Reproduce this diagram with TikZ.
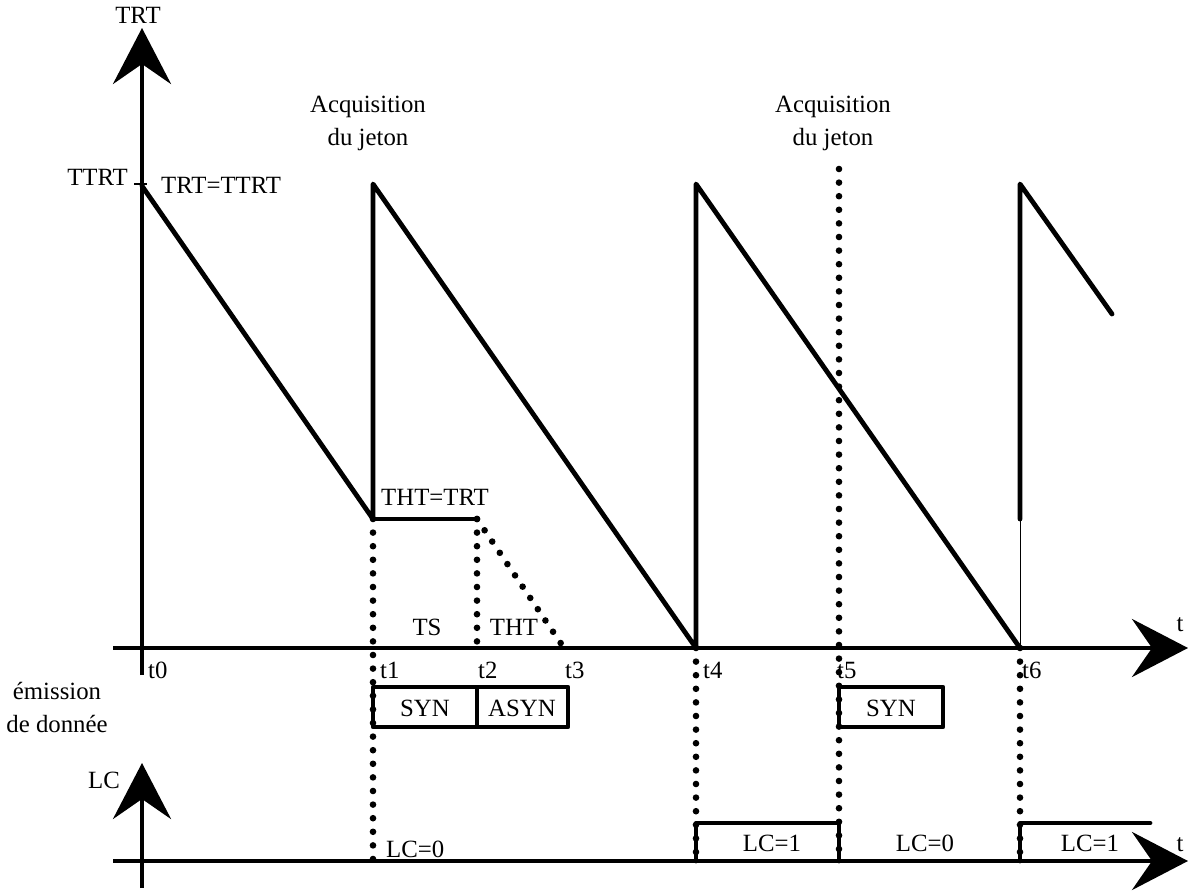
\documentclass[tikz,border=0pt]{standalone}
\usepackage{fontspec}
\setmainfont{Liberation Serif}
\usetikzlibrary{arrows.meta}
\begin{document}
\begin{tikzpicture}[x=1pt,y=-1pt,
  thick line/.style={line width=4.8pt,line join=round,line cap=round},
  axis/.style={line width=4.6pt,-{Stealth[length=56pt,width=58pt,inset=20pt]}},
  dotline/.style={line width=6.6pt,line cap=round,dash pattern=on 0pt off 13.6pt},
  lbl/.style={inner sep=0pt,font=\fontsize{24.8}{33}\selectfont},
  box/.style={line width=4.6pt,line join=round}]
\useasboundingbox (0,0) rectangle (1192,893);
% axes coordinates
\coordinate (yb) at (142,675);
\coordinate (yt) at (142,28);
\coordinate (xl) at (113,648);
\coordinate (xr) at (1188,648);
\coordinate (lyb) at (142,888);
\coordinate (lyt) at (142,763);
\coordinate (lxl) at (113,861);
\coordinate (lxr) at (1188,861);
\draw[axis] (yb) -- (yt);
\draw[axis] (xl) -- (xr);
\draw[axis] (lyb) -- (lyt);
\draw[axis] (lxl) -- (lxr);
% sawtooth
\coordinate (s0) at (142,186);
\coordinate (a1) at (373,519);
\coordinate (h1) at (373,184);
\coordinate (b4) at (696,648);
\coordinate (h4) at (696,184);
\coordinate (b6) at (1020,648);
\coordinate (m6) at (1020,519);
\coordinate (h6) at (1020,184);
\coordinate (e6) at (1112,314);
\coordinate (a2) at (477,519);
\draw[thick line] (s0) -- (a1) -- (h1) -- (b4) -- (h4) -- (b6);
\draw[line width=1pt] (b6) -- (m6);
\draw[thick line] (m6) -- (h6) -- (e6);
\draw[thick line] (a1) -- (a2);
% tick
\coordinate (tk1) at (134,184);
\coordinate (tk2) at (147,184);
\draw[line width=1.2pt] (tk1) -- (tk2);
% dotted lines
\coordinate (d1b) at (373,861);
\coordinate (d2b) at (477,648);
\coordinate (d3b) at (564,648);
\coordinate (d4b) at (696,861);
\coordinate (d5t) at (839,169);
\coordinate (d5b) at (839,861);
\coordinate (d6b) at (1020,861);
\draw[dotline] (a1) -- (d1b);
\draw[dotline] (a2) -- (d2b);
\draw[dotline] (a2) -- (d3b);
\draw[dotline] (b4) -- (d4b);
\draw[dotline] (d5t) -- (d5b);
\draw[dotline] (b6) -- (d6b);
% boxes
\draw[box] (373,687) rectangle (477,727);
\draw[box] (477,687) rectangle (568,727);
\draw[box] (839,687) rectangle (943,727);
\node[lbl] (syn1) at (425,708) {SYN};
\node[lbl] (asyn) at (522,708) {ASYN};
\node[lbl] (syn2) at (891,708) {SYN};
% LC signal
\coordinate (l4u) at (696,823);
\coordinate (l5u) at (839,823);
\coordinate (l6u) at (1020,823);
\coordinate (lend) at (1150,823);
\draw[thick line] (d4b) -- (l4u) -- (l5u) -- (d5b);
\draw[thick line] (d6b) -- (l6u) -- (lend);
% labels
\node[lbl] (trt) at (138,15) {TRT};
\node[lbl] (tup) at (1180,625) {t};
\node[lbl] (tlo) at (1180,845) {t};
\node[lbl,anchor=east] (ttrt) at (128,177) {TTRT};
\node[lbl,anchor=west] (eq1) at (161,185) {TRT=TTRT};
\node[lbl,align=center] (acq1) at (368,123) {Acquisition\\du jeton};
\node[lbl,align=center] (acq2) at (833,123) {Acquisition\\du jeton};
\node[lbl,anchor=west] (eq2) at (381,497) {THT=TRT};
\node[lbl] (ts) at (427,627) {TS};
\node[lbl] (tht) at (514,627) {THT};
\node[lbl,anchor=west] (t0) at (148,670) {t0};
\node[lbl,anchor=west] (t1) at (380,670) {t1};
\node[lbl,anchor=west] (t2) at (478,670) {t2};
\node[lbl,anchor=west] (t3) at (565,670) {t3};
\node[lbl,anchor=west] (t4) at (703,670) {t4};
\node[lbl,anchor=west] (t5) at (837,670) {t5};
\node[lbl,anchor=west] (t6) at (1022,670) {t6};
\node[lbl,align=center] (emi) at (57,707) {émission\\de donnée};
\node[lbl] (lc) at (104,780) {LC};
\node[lbl,anchor=west] (lc0a) at (386,849) {LC=0};
\node[lbl] (lc1a) at (772,843) {LC=1};
\node[lbl] (lc0b) at (925,843) {LC=0};
\node[lbl] (lc1b) at (1090,843) {LC=1};
\end{tikzpicture}
\end{document}
